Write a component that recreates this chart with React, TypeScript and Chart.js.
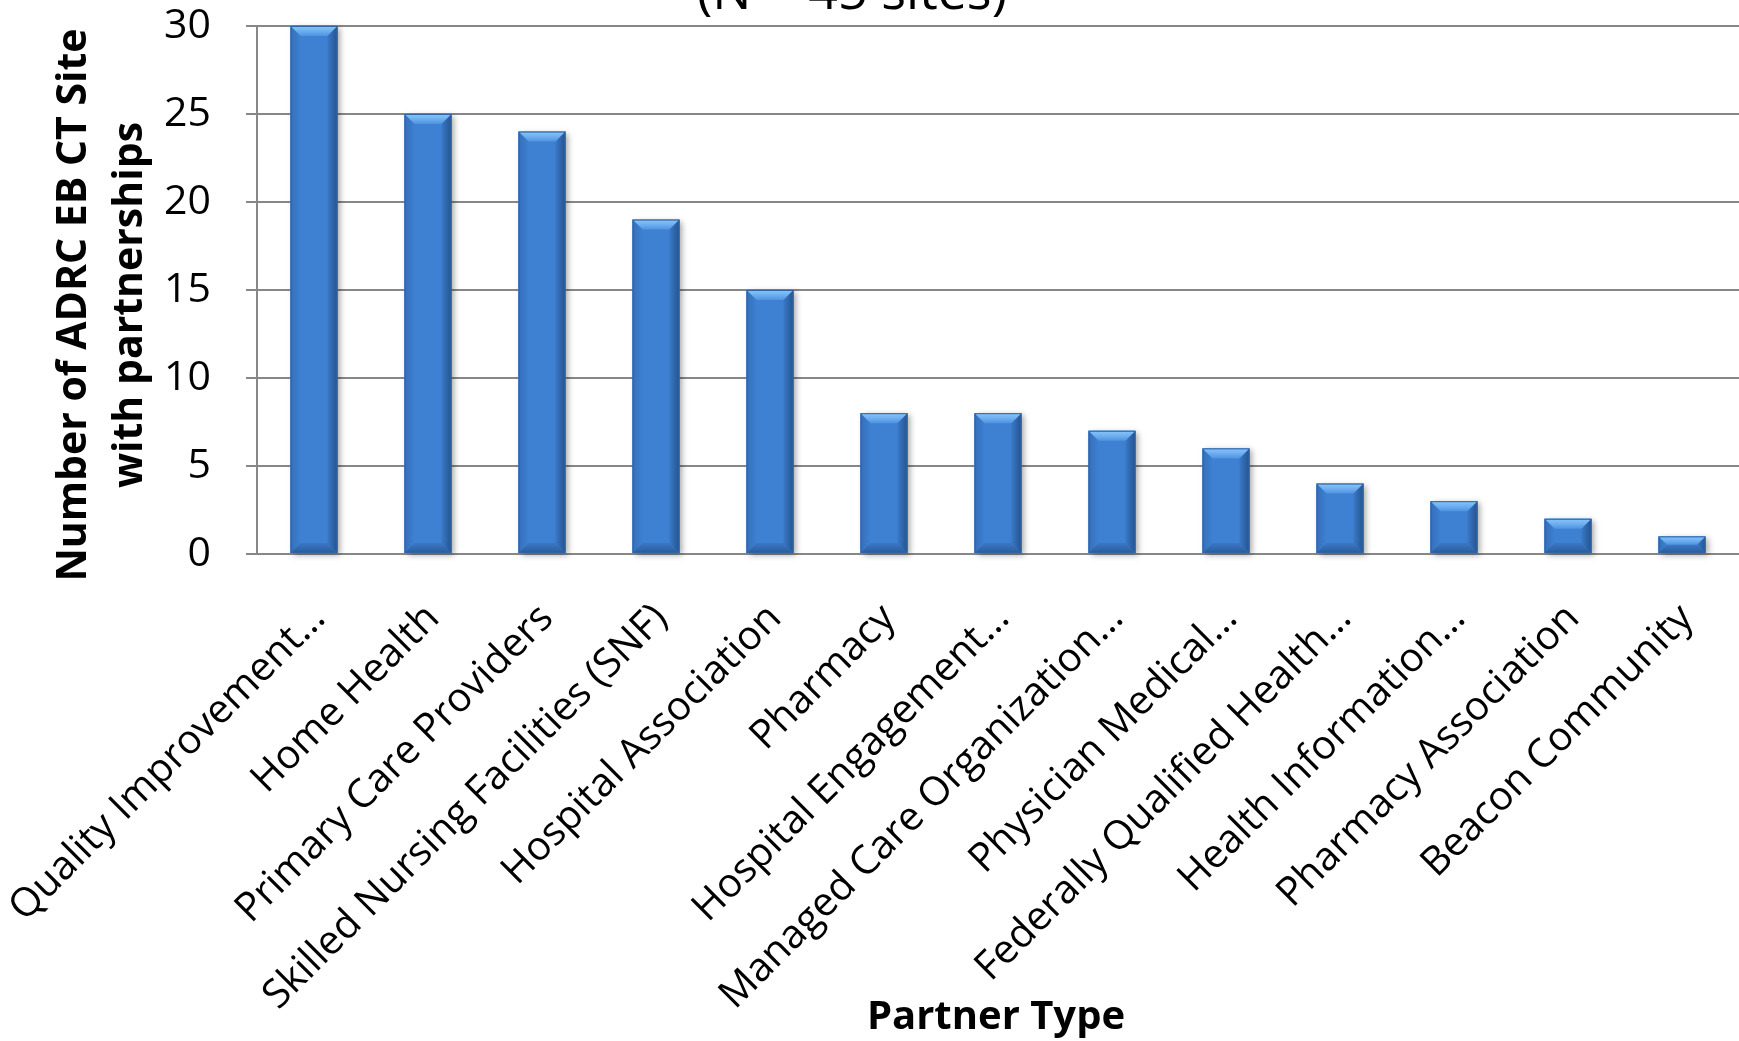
import { useEffect, useRef } from 'react';
import { Chart, registerables } from 'chart.js';

Chart.register(...registerables);

const categories = [
  'Quality Improvement…',
  'Home Health',
  'Primary Care Providers',
  'Skilled Nursing Facilities (SNF)',
  'Hospital Association',
  'Pharmacy',
  'Hospital Engagement…',
  'Managed Care Organization…',
  'Physician Medical…',
  'Federally Qualified Health…',
  'Health Information…',
  'Pharmacy Association',
  'Beacon Community',
];
const siteCounts = [30, 25, 24, 19, 15, 8, 8, 7, 6, 4, 3, 2, 1];
const yMin = 0;
const yMax = 30;
const yStep = 5;
const titleText = '(N = 45 sites)';
const yTitleLines = ['Number of ADRC EB CT Site', 'with partnerships'];
const xTitleText = 'Partner Type';

const FONT = '"Open Sans", "DejaVu Sans", sans-serif';
const GRID = '#878787';

const bevelPlugin = {
  id: 'bevelBars',
  beforeDatasetsDraw(chart: any) {
    const ctx = chart.ctx;
    const meta = chart.getDatasetMeta(0);
    ctx.save();
    ctx.shadowColor = 'rgba(0,0,0,0.35)';
    ctx.shadowBlur = 6;
    ctx.shadowOffsetX = 3;
    ctx.shadowOffsetY = 2;
    ctx.fillStyle = '#3c7dcf';
    meta.data.forEach((bar: any) => {
      const { x, y, base, width } = bar.getProps(['x', 'y', 'base', 'width'], true);
      ctx.fillRect(x - width / 2, y, width, base - y);
    });
    ctx.restore();
  },
  afterDatasetsDraw(chart: any) {
    const ctx = chart.ctx;
    const meta = chart.getDatasetMeta(0);
    ctx.save();
    meta.data.forEach((bar: any) => {
      const { x, y, base, width } = bar.getProps(['x', 'y', 'base', 'width'], true);
      const l = x - width / 2;
      const r = x + width / 2;
      const t = y;
      const b = base;
      const h = b - t;
      const bv = Math.min(10, h / 2);
      // face
      ctx.fillStyle = '#3e80d2';
      ctx.fillRect(l, t, width, h);
      // left bevel
      const lg = ctx.createLinearGradient(l, 0, l + bv, 0);
      lg.addColorStop(0, '#356fba');
      lg.addColorStop(1, '#3e80d2');
      ctx.fillStyle = lg;
      ctx.beginPath();
      ctx.moveTo(l, t); ctx.lineTo(l + bv, t + bv); ctx.lineTo(l + bv, b - bv); ctx.lineTo(l, b);
      ctx.closePath(); ctx.fill();
      // right bevel
      const rg = ctx.createLinearGradient(r - bv, 0, r, 0);
      rg.addColorStop(0, '#3a79c8');
      rg.addColorStop(1, '#25548f');
      ctx.fillStyle = rg;
      ctx.beginPath();
      ctx.moveTo(r, t); ctx.lineTo(r - bv, t + bv); ctx.lineTo(r - bv, b - bv); ctx.lineTo(r, b);
      ctx.closePath(); ctx.fill();
      // bottom bevel
      const bg = ctx.createLinearGradient(0, b - bv, 0, b);
      bg.addColorStop(0, '#3a78c6');
      bg.addColorStop(1, '#2a5c9c');
      ctx.fillStyle = bg;
      ctx.beginPath();
      ctx.moveTo(l, b); ctx.lineTo(l + bv, b - bv); ctx.lineTo(r - bv, b - bv); ctx.lineTo(r, b);
      ctx.closePath(); ctx.fill();
      // top bevel
      const topG = ctx.createLinearGradient(0, t, 0, t + bv);
      topG.addColorStop(0, '#8ac5fb');
      topG.addColorStop(0.5, '#6eaff0');
      topG.addColorStop(1, '#4f93e0');
      ctx.fillStyle = topG;
      ctx.beginPath();
      ctx.moveTo(l, t); ctx.lineTo(r, t); ctx.lineTo(r - bv, t + bv); ctx.lineTo(l + bv, t + bv);
      ctx.closePath(); ctx.fill();
      // outline
      ctx.strokeStyle = '#2f63a4';
      ctx.lineWidth = 1;
      ctx.strokeRect(l + 0.5, t + 0.5, width - 1, h - 1);
    });
    ctx.restore();
  },
};

const textPlugin = {
  id: 'chartTexts',
  afterDraw(chart: any) {
    const ctx = chart.ctx;
    ctx.save();
    ctx.fillStyle = '#000';
    // partially visible title (cut by the top edge)
    ctx.font = `52px ${FONT}`;
    ctx.textAlign = 'center';
    ctx.textBaseline = 'alphabetic';
    ctx.fillText(titleText, 852, 9);
    // y-axis title (two lines)
    ctx.font = `bold 41px ${FONT}`;
    const yCenter = 305;
    const baselines = [86, 142];
    yTitleLines.forEach((line, i) => {
      ctx.save();
      ctx.translate(baselines[i], yCenter);
      ctx.rotate(-Math.PI / 2);
      ctx.textAlign = 'center';
      ctx.textBaseline = 'alphabetic';
      ctx.fillText(line, 0, 0);
      ctx.restore();
    });
    // x-axis title
    ctx.font = `bold 40px ${FONT}`;
    ctx.textAlign = 'center';
    ctx.textBaseline = 'alphabetic';
    ctx.fillText(xTitleText, 996, 1029);
    ctx.restore();
  },
};

export default function App() {
  const canvasRef = useRef<HTMLCanvasElement | null>(null);

  useEffect(() => {
    const canvas = canvasRef.current;
    if (!canvas) return;
    const chart = new Chart(canvas, {
      type: 'bar',
      data: {
        labels: categories,
        datasets: [
          {
            data: siteCounts,
            backgroundColor: '#3c7dcf',
            borderWidth: 0,
            barPercentage: 0.41,
            categoryPercentage: 1.0,
          },
        ],
      },
      options: {
        animation: false,
        responsive: false,
        devicePixelRatio: 1,
        layout: { padding: { top: 26, left: 0, right: 0, bottom: 0 } },
        plugins: {
          legend: { display: false },
          tooltip: { enabled: false },
          title: { display: false },
        },
        scales: {
          x: {
            grid: { display: false, drawTicks: false },
            border: { display: true, color: GRID, width: 2 },
            ticks: {
              autoSkip: false,
              maxRotation: 45,
              minRotation: 45,
              padding: 41,
              labelOffset: 5,
              color: '#000',
              font: { family: FONT, size: 40 },
            },
            afterFit: (scale: any) => {
              scale.height = 487;
              scale.paddingLeft = 0;
              scale.paddingRight = 0;
              scale.paddingTop = 0;
              scale.paddingBottom = 0;
            },
          },
          y: {
            min: yMin,
            max: yMax,
            ticks: {
              stepSize: yStep,
              padding: 35,
              color: '#000',
              font: { family: FONT, size: 41 },
            },
            grid: { color: GRID, lineWidth: 2, tickLength: 11, drawTicks: true },
            border: { display: true, color: GRID, width: 2 },
            afterFit: (scale: any) => {
              scale.width = 257;
              scale.paddingLeft = 0;
              scale.paddingRight = 0;
              scale.paddingTop = 0;
              scale.paddingBottom = 0;
            },
          },
        },
      },
      plugins: [bevelPlugin, textPlugin],
    });
    if ((document as any).fonts && (document as any).fonts.ready) {
      (document as any).fonts.ready.then(() => chart.update());
    }
    return () => chart.destroy();
  }, []);

  return (
    <div style={{ position: 'absolute', left: 0, top: 0, width: 1739, height: 1041, background: '#fff' }}>
      <canvas ref={canvasRef} width={1739} height={1041} style={{ width: 1739, height: 1041, display: 'block' }} />
    </div>
  );
}
